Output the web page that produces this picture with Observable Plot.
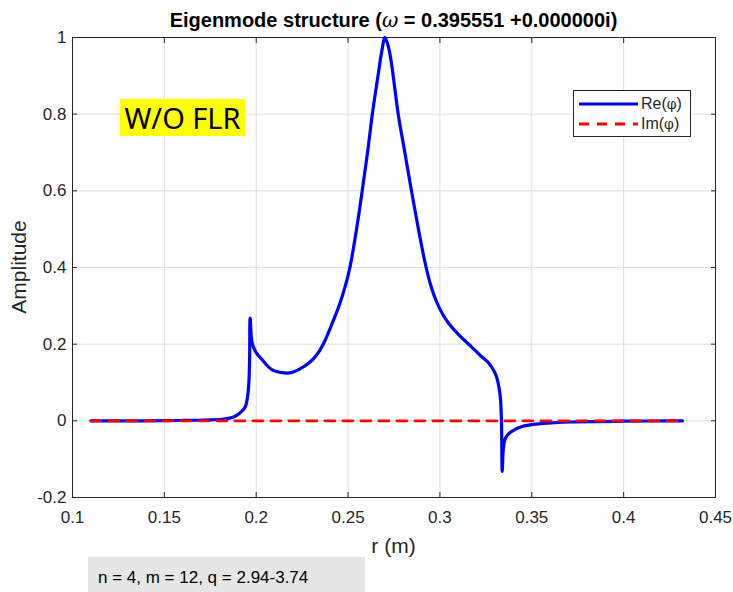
<!DOCTYPE html>
<html>
<head>
<meta charset="utf-8">
<script src="https://cdn.jsdelivr.net/npm/d3@7"></script>
<script src="https://cdn.jsdelivr.net/npm/@observablehq/plot@0.6"></script>
<style>
  html, body { margin: 0; padding: 0; background: #fff; }
  #wrap { position: relative; width: 733px; height: 592px; overflow: hidden; font-family: "Liberation Sans", Arial, sans-serif; }
  #wrap > svg { position: absolute; left: 0; top: 0; }
  .title { position: absolute; left: 72px; width: 643px; top: 8px; line-height: 24px; text-align: center; font-weight: bold; font-size: 20px; color: #000; white-space: nowrap; }
  .title .w { font-weight: normal; font-family: "DejaVu Serif", serif; font-style: italic; }
  .xlab { position: absolute; left: 72px; width: 643px; top: 533px; line-height: 26px; text-align: center; font-size: 21px; color: #262626; }
  .ylab { position: absolute; left: 19px; top: 267px; transform: translate(-50%, -50%) rotate(-90deg); line-height: 26px; font-size: 21px; color: #262626; white-space: nowrap; }
  .flr { position: absolute; left: 120px; top: 99px; width: 125px; height: 37px; background: #ffff00; font-family: "Noto Sans", "Open Sans", sans-serif; font-size: 29px; line-height: 37px; text-align: center; color: #000; white-space: nowrap; }
  .legend { position: absolute; left: 573px; top: 90px; width: 116px; height: 45px; border: 1px solid #262626; background: #fff; font-size: 16px; color: #262626; }
  .legend .row { position: absolute; left: 5px; height: 20px; display: flex; align-items: center; white-space: nowrap; }
  .legend .row svg { display: block; }
  .legend .row span { margin-left: 3px; }
  .legend .row span.phi { margin-left: 0; font-family: "DejaVu Serif", serif; font-size: 14px; }
  .caption { position: absolute; left: 88px; top: 557px; width: 277px; height: 35px; background: #e6e6e6; font-size: 17px; line-height: 41px; color: #000; padding-left: 10px; box-sizing: border-box; overflow: hidden; white-space: nowrap; }
</style>
</head>
<body>
<div id="wrap"></div>
<script>
// ---- data ----
const rRe = [0.110, 0.130, 0.150, 0.160, 0.168, 0.175, 0.1815, 0.1855, 0.1886, 0.1915, 0.194, 0.1952, 0.196, 0.1964, 0.1967,
  0.1978, 0.2000, 0.2033, 0.2087, 0.2155, 0.2193, 0.2236, 0.2285, 0.2329, 0.2365, 0.2410, 0.2451, 0.2484, 0.2510, 0.2546,
  0.2577, 0.2606, 0.2632, 0.2663, 0.2682, 0.2701, 0.2720, 0.2737, 0.2773, 0.2809, 0.2845, 0.2881, 0.2918, 0.2949, 0.2982,
  0.3015, 0.3045, 0.3107, 0.3172, 0.3216, 0.3265, 0.3292, 0.3308, 0.3324, 0.3330, 0.3335, 0.3339, 0.3344, 0.3353, 0.3368, 0.3389,
  0.3446, 0.3536, 0.3620, 0.3717, 0.3850, 0.4000, 0.4150, 0.4320];
const reVals = [0.000, 0.000, 0.0005, 0.001, 0.0015, 0.0025, 0.004, 0.007, 0.012, 0.022, 0.036, 0.060, 0.099, 0.160, 0.268,
  0.203, 0.178, 0.159, 0.133, 0.125, 0.126, 0.135, 0.150, 0.172, 0.200, 0.250, 0.300, 0.350, 0.400, 0.500,
  0.600, 0.700, 0.800, 0.900, 0.960, 1.000, 0.975, 0.930, 0.800, 0.700, 0.600, 0.505, 0.415, 0.355, 0.310,
  0.278, 0.256, 0.222, 0.193, 0.172, 0.151, 0.132, 0.115, 0.080, 0.055, 0.000, -0.132, -0.080, -0.050, -0.037, -0.028,
  -0.015, -0.008, -0.005, -0.003, -0.002, -0.001, -0.0005, 0.000];
const rIm = [0.110, 0.432];
const imVals = [0, 0];
const xTicks = [0.1, 0.15, 0.2, 0.25, 0.3, 0.35, 0.4, 0.45];
const yTicks = [-0.2, 0, 0.2, 0.4, 0.6, 0.8, 1];
const yTickLabels = ["-0.2", "0", "0.2", "0.4", "0.6", "0.8", "1"];
const titleText = "Eigenmode structure (";
const omegaText = "ω";
const titleRest = " = 0.395551 +0.000000i)";
const xLabel = "r (m)";
const yLabel = "Amplitude";
const seriesNames = [["Re(", "φ", ")"], ["Im(", "φ", ")"]];
const annotation = "W/O FLR";
const captionText = "n = 4, m = 12, q = 2.94-3.74";

const reData = rRe.map((r, i) => ({r, v: reVals[i]}));
const imData = rIm.map((r, i) => ({r, v: imVals[i]}));

const axisColor = "#262626";
const plot = Plot.plot({
  width: 733,
  height: 592,
  marginTop: 37,
  marginRight: 18,
  marginBottom: 95,
  marginLeft: 72,
  style: {fontFamily: "Liberation Sans, Arial, sans-serif", fontSize: "17px", color: axisColor, background: "transparent"},
  x: {domain: [0.1, 0.45]},
  y: {domain: [-0.2, 1]},
  marks: [
    Plot.gridX(xTicks, {stroke: "#dedede", strokeOpacity: 1}),
    Plot.gridY(yTicks, {stroke: "#dedede", strokeOpacity: 1}),
    Plot.axisX(xTicks, {anchor: "bottom", tickSize: 0, tickPadding: 13, tickFormat: d => String(d), fontSize: 17, fill: axisColor, label: null}),
    Plot.axisY(yTicks, {anchor: "left", tickSize: 0, tickPadding: 6, tickFormat: (d, i) => yTickLabels[i], fontSize: 17, fill: axisColor, label: null}),
    Plot.axisX(xTicks, {anchor: "bottom", tickSize: 5, dy: -5, text: null, stroke: axisColor, label: null}),
    Plot.axisX(xTicks, {anchor: "top", tickSize: 5, dy: 5, text: null, stroke: axisColor, label: null}),
    Plot.axisY(yTicks, {anchor: "left", tickSize: 5, dx: 5, text: null, stroke: axisColor, label: null}),
    Plot.axisY(yTicks, {anchor: "right", tickSize: 5, dx: -5, text: null, stroke: axisColor, label: null}),
    Plot.frame({stroke: axisColor, strokeWidth: 1}),
    Plot.line(reData, {x: "r", y: "v", stroke: "#0000ff", strokeWidth: 3.2, curve: "catmull-rom"}),
    Plot.line(imData, {x: "r", y: "v", stroke: "#ff0000", strokeWidth: 2.8, strokeDasharray: "10,8"})
  ]
});

const wrap = document.getElementById("wrap");
wrap.appendChild(plot);

function addDiv(cls, text) {
  const d = document.createElement("div");
  d.className = cls;
  if (text != null) d.textContent = text;
  wrap.appendChild(d);
  return d;
}

const title = addDiv("title");
title.append(titleText);
const w = document.createElement("span"); w.className = "w"; w.textContent = omegaText;
title.append(w);
title.append(titleRest);

addDiv("xlab", xLabel);
addDiv("ylab", yLabel);
addDiv("flr", annotation);

const legend = addDiv("legend");
const legendStyles = [
  {stroke: "#0000ff", width: 3.2, dash: null, top: 3},
  {stroke: "#ff0000", width: 2.8, dash: "10,8", top: 23}
];
legendStyles.forEach((s, i) => {
  const [a, p, b] = seriesNames[i];
  legend.insertAdjacentHTML("beforeend",
    `<div class="row" style="top:${s.top}px"><svg width="59" height="6"><line x1="0" y1="3" x2="59" y2="3" stroke="${s.stroke}" stroke-width="${s.width}"${s.dash ? ` stroke-dasharray="${s.dash}"` : ""}/></svg><span>${a}<span class="phi">${p}</span>${b}</span></div>`);
});

addDiv("caption", captionText);
</script>
</body>
</html>
